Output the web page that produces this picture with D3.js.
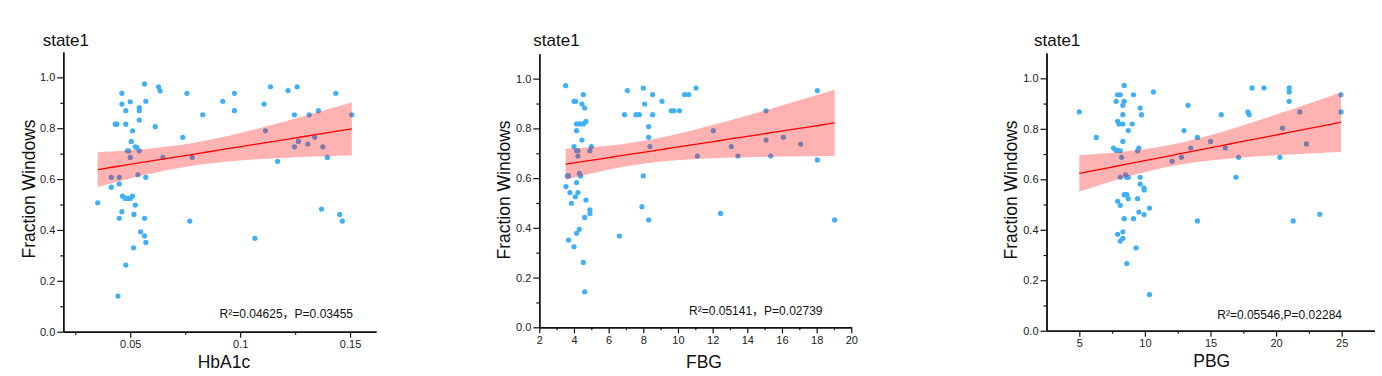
<!DOCTYPE html>
<html>
<head>
<meta charset="utf-8">
<script src="https://cdn.jsdelivr.net/npm/d3@7"></script>
<style>
  html, body { margin: 0; padding: 0; background: #fff; }
  svg { display: block; }
  text { font-family: "Liberation Sans", Arial, "Noto Sans CJK SC", sans-serif; }
</style>
</head>
<body>
<svg id="chart" width="1382" height="376"></svg>
<script>
// ---------------- data ----------------
const panelTitles = ["state1", "state1", "state1"];
const xLabels = ["HbA1c", "FBG", "PBG"];
const yLabel = "Fraction Windows";
const statsText = ["R²=0.04625，P=0.03455", "R²=0.05141，P=0.02739", "R²=0.05546,P=0.02284"];

const yTicks = [0, 0.2, 0.4, 0.6, 0.8, 1.0];
const yTickLabels = ["0.0", "0.2", "0.4", "0.6", "0.8", "1.0"];
const yMinorTicks = [0.1, 0.3, 0.5, 0.7, 0.9];

const hbTicks = [0.05, 0.1, 0.15];
const hbTickLabels = ["0.05", "0.1", "0.15"];
const hbMinorTicks = [0.025, 0.075, 0.125];
const fbgTicks = [2, 4, 6, 8, 10, 12, 14, 16, 18, 20];
const fbgTickLabels = ["2", "4", "6", "8", "10", "12", "14", "16", "18", "20"];
const fbgMinorTicks = [3, 5, 7, 9, 11, 13, 15, 17, 19];
const pbgTicks = [5, 10, 15, 20, 25];
const pbgTickLabels = ["5", "10", "15", "20", "25"];
const pbgMinorTicks = [7.5, 12.5, 17.5, 22.5];

const hbX = [0.0352,0.0414,0.0414,0.0432,0.0439,0.0450,0.0450,0.0444,0.0462,0.0462,0.0462,0.0450,0.0480,0.0480,0.0480,0.0465,0.0477,0.0488,0.0500,0.0510,0.0487,0.0493,0.0500,0.0500,0.0511,0.0505,0.0523,0.0530,0.0523,0.0517,0.0515,0.0535,0.0541,0.0541,0.0541,0.0541,0.0547,0.0565,0.0565,0.0571,0.0571,0.0571,0.0565,0.0629,0.0636,0.0614,0.0649,0.0739,0.0758,0.0771,0.0782,0.0830,0.0921,0.0974,0.0974,0.1067,0.1109,0.1115,0.1138,0.1170,0.1218,0.1247,0.1247,0.1259,0.1265,0.1308,0.1314,0.1339,0.1356,0.1370,0.1376,0.1397,0.1435,0.1453,0.1465,0.1508];
const hbY = [0.507,0.607,0.568,0.816,0.816,0.607,0.581,0.140,0.937,0.895,0.472,0.446,0.869,0.816,0.262,0.533,0.524,0.524,0.524,0.533,0.711,0.711,0.685,0.904,0.790,0.748,0.727,0.725,0.498,0.461,0.330,0.617,0.881,0.869,0.832,0.711,0.393,0.446,0.377,0.351,0.607,0.906,0.974,0.963,0.947,0.806,0.685,0.764,0.937,0.435,0.685,0.853,0.906,0.937,0.869,0.367,0.895,0.790,0.963,0.670,0.948,0.853,0.727,0.963,0.748,0.738,0.853,0.764,0.869,0.482,0.727,0.685,0.937,0.461,0.435,0.853];

const fbgX = [3.52,4.0,4.1,4.54,4.46,4.62,4.15,4.35,4.54,4.69,4.15,4.46,4.0,4.15,4.23,4.23,4.92,5.0,3.62,3.69,4.31,4.38,3.54,3.77,4.15,4.23,4.08,3.85,4.69,4.92,4.92,4.62,4.31,4.15,3.69,4.0,4.54,4.62,6.62,6.92,7.08,7.58,7.77,8.0,8.08,8.54,8.54,8.31,8.31,8.38,8.0,7.92,8.31,9.08,9.62,9.77,10.08,10.38,10.62,11.04,11.12,12.04,12.46,13.08,13.46,15.08,15.08,15.35,16.08,17.08,18.04,18.04,19.04];
const fbgY = [0.972,0.909,0.909,0.936,0.898,0.882,0.818,0.818,0.818,0.828,0.791,0.753,0.727,0.710,0.710,0.689,0.710,0.727,0.609,0.609,0.619,0.609,0.566,0.542,0.582,0.542,0.525,0.499,0.512,0.472,0.458,0.442,0.394,0.378,0.351,0.324,0.261,0.143,0.367,0.855,0.952,0.855,0.855,0.962,0.898,0.936,0.855,0.807,0.764,0.727,0.609,0.485,0.432,0.909,0.871,0.871,0.871,0.936,0.936,0.962,0.689,0.791,0.458,0.727,0.689,0.871,0.753,0.689,0.764,0.737,0.952,0.673,0.432];

const pbgX = [5.0,6.29,7.61,7.79,7.92,7.81,7.92,8.12,7.92,8.02,8.32,8.12,8.22,8.12,8.32,8.32,8.32,8.42,8.42,8.52,8.62,8.73,7.92,8.12,8.42,8.62,8.73,8.42,7.92,8.32,8.32,8.12,8.62,8.73,9.03,9.13,9.13,9.33,9.44,9.54,9.44,9.54,9.64,9.74,9.64,9.64,9.94,9.94,9.94,10.35,10.35,10.65,12.07,12.78,12.98,13.29,13.49,14.0,14.0,15.01,15.82,16.13,16.94,17.14,17.85,17.95,18.16,19.07,20.29,20.49,21.0,21.0,21.0,21.3,21.81,22.31,23.33,24.95,24.95];
const pbgY = [0.867,0.766,0.724,0.715,0.715,0.909,0.935,0.935,0.830,0.819,0.819,0.713,0.687,0.608,0.856,0.893,0.750,0.972,0.909,0.618,0.608,0.608,0.513,0.497,0.539,0.539,0.523,0.444,0.382,0.392,0.366,0.355,0.266,0.793,0.819,0.935,0.444,0.328,0.713,0.724,0.523,0.470,0.882,0.856,0.608,0.581,0.565,0.558,0.460,0.486,0.143,0.946,0.671,0.687,0.793,0.893,0.724,0.766,0.435,0.750,0.856,0.724,0.608,0.687,0.867,0.856,0.962,0.962,0.687,0.803,0.962,0.946,0.909,0.435,0.867,0.740,0.461,0.935,0.867];

// ---------------- layout (positions / styles) ----------------
const panels = [
  { xs: hbX, ys: hbY, xDomain: [0.01955, 0.1618], ticks: hbTicks, tickLabels: hbTickLabels, minor: hbMinorTicks,
    left: 63.3, right: 376, top: 51.9, bottom: 331.7,
    titleX: 42.7, ylabX: 35, ylabY: 189, xlabX: 224, xlabY: 368, statX: 353, statY: 318 },
  { xs: fbgX, ys: fbgY, xDomain: [2, 20], ticks: fbgTicks, tickLabels: fbgTickLabels, minor: fbgMinorTicks,
    left: 539.3, right: 851.3, top: 53.8, bottom: 327.3,
    titleX: 533.3, ylabX: 510, ylabY: 190, xlabX: 704, xlabY: 368, statX: 822.5, statY: 315 },
  { xs: pbgX, ys: pbgY, xDomain: [2.5, 27.5], ticks: pbgTicks, tickLabels: pbgTickLabels, minor: pbgMinorTicks,
    left: 1046.5, right: 1374.5, top: 53.1, bottom: 330.7,
    titleX: 1034, ylabX: 1016.5, ylabY: 190, xlabX: 1211.7, xlabY: 367, statX: 1342, statY: 319 }
];

const svg = d3.select("#chart");
svg.append("rect").attr("width", 1382).attr("height", 376).attr("fill", "#fff");

function fit(xs, ys) {
  const n = xs.length;
  const mx = d3.mean(xs), my = d3.mean(ys);
  let sxx = 0, sxy = 0;
  for (let i = 0; i < n; i++) { sxx += (xs[i]-mx)**2; sxy += (xs[i]-mx)*(ys[i]-my); }
  const b = sxy / sxx, a = my - b * mx;
  let sse = 0;
  for (let i = 0; i < n; i++) sse += (ys[i] - a - b*xs[i])**2;
  const s = Math.sqrt(sse / (n - 2));
  const t = 1.99;
  const [x0, x1] = d3.extent(xs);
  const pts = d3.range(0, 41).map(k => {
    const x = x0 + (x1 - x0) * k / 40;
    const yh = a + b * x;
    const h = t * s * Math.sqrt(1/n + (x-mx)**2 / sxx);
    return { x, y: yh, lo: yh - h, hi: yh + h };
  });
  return pts;
}

panels.forEach((p, idx) => {
  const g = svg.append("g");
  const x = d3.scaleLinear().domain(p.xDomain).range([p.left, p.right]);
  const y = d3.scaleLinear().domain([0, 1.1]).range([p.bottom, p.top]);

  // points
  const data = p.xs.map((v, i) => ({ x: v, y: p.ys[i] }));
  g.append("g").selectAll("circle").data(data).join("circle")
    .attr("cx", d => x(d.x)).attr("cy", d => y(d.y)).attr("r", 2.6)
    .attr("fill", "#3fb0f8");

  // confidence band + fit line
  const f = fit(p.xs, p.ys);
  g.append("path").datum(f)
    .attr("d", d3.area().x(d => x(d.x)).y0(d => y(d.lo)).y1(d => y(d.hi)))
    .attr("fill", "rgb(255,0,0)").attr("fill-opacity", 0.3);
  g.append("path").datum(f)
    .attr("d", d3.line().x(d => x(d.x)).y(d => y(d.y)))
    .attr("fill", "none").attr("stroke", "#ff0000").attr("stroke-width", 1.3);

  // axes
  const yAxis = d3.axisLeft(y).tickValues(yTicks).tickFormat((d, i) => yTickLabels[i])
    .tickSize(6).tickSizeOuter(0).tickPadding(2);
  const yMinor = d3.axisLeft(y).tickValues(yMinorTicks).tickFormat("").tickSize(3).tickSizeOuter(0);
  const xAxis = d3.axisBottom(x).tickValues(p.ticks).tickFormat((d, i) => p.tickLabels[i])
    .tickSize(6).tickSizeOuter(0).tickPadding(3);
  const xMinor = d3.axisBottom(x).tickValues(p.minor).tickFormat("").tickSize(3).tickSizeOuter(0);

  [yAxis, yMinor].forEach(ax => {
    g.append("g").attr("transform", `translate(${p.left},0)`).call(ax);
  });
  [xAxis, xMinor].forEach(ax => {
    g.append("g").attr("transform", `translate(0,${p.bottom})`).call(ax);
  });
  g.selectAll(".domain").attr("stroke", "#111").attr("stroke-width", 1.4);
  g.selectAll(".tick line").attr("stroke", "#111").attr("stroke-width", 1.2);
  g.selectAll(".tick text").attr("font-size", "11px").attr("fill", "#222")
    .attr("font-family", "'Liberation Sans', Arial, sans-serif");

  // texts
  g.append("text").attr("x", p.titleX).attr("y", 46).attr("font-size", "17px").attr("fill", "#111")
    .text(panelTitles[idx]);
  g.append("text").attr("transform", `translate(${p.ylabX},${p.ylabY}) rotate(-90)`)
    .attr("text-anchor", "middle").attr("font-size", "17.5px").attr("fill", "#111").text(yLabel);
  g.append("text").attr("x", p.xlabX).attr("y", p.xlabY).attr("text-anchor", "middle")
    .attr("font-size", "17.5px").attr("fill", "#111").text(xLabels[idx]);
  g.append("text").attr("x", p.statX).attr("y", p.statY).attr("text-anchor", "end")
    .attr("font-size", "12px").attr("fill", "#111").text(statsText[idx]);
});
</script>
</body>
</html>
